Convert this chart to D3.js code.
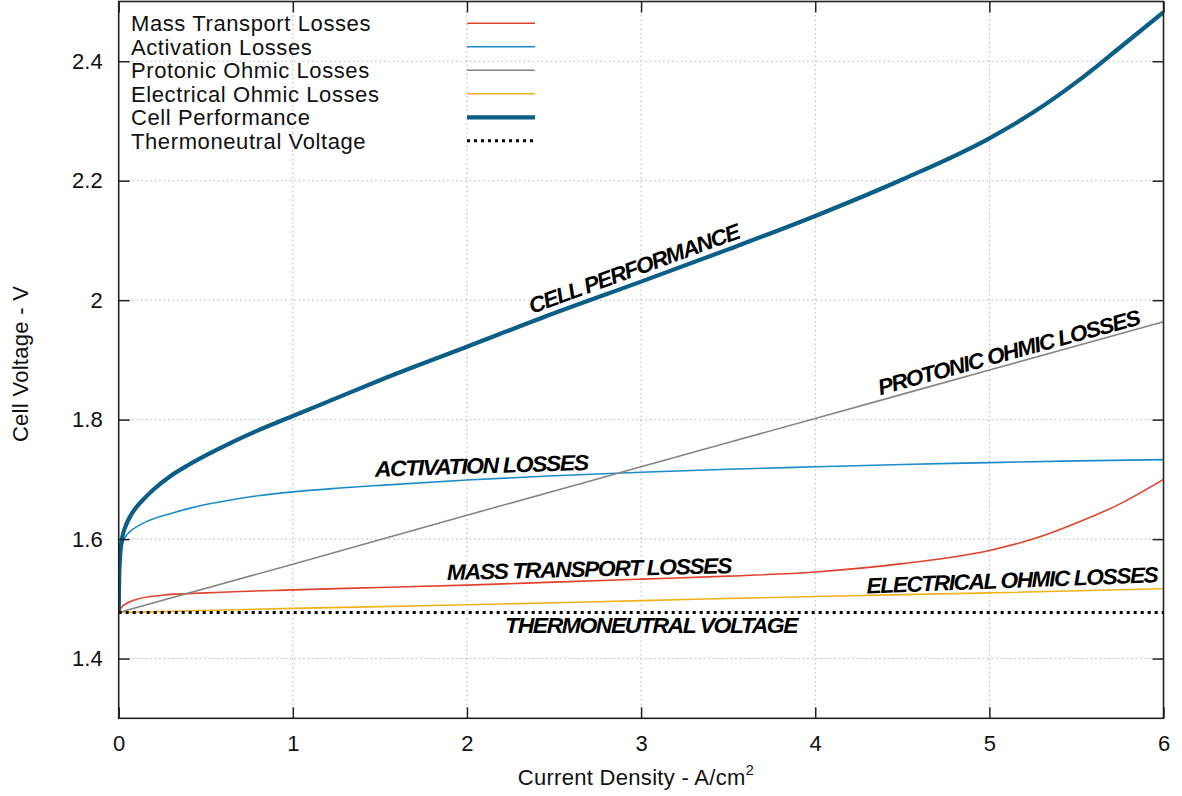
<!DOCTYPE html>
<html>
<head>
<meta charset="utf-8">
<script src="https://cdn.jsdelivr.net/npm/d3@7"></script>
<style>
  html, body { margin: 0; padding: 0; background: #fff; }
  svg { display: block; font-family: "Liberation Sans", Arial, Helvetica, sans-serif; }
</style>
</head>
<body>
<svg id="chart" width="1182" height="796"></svg>
<script>
// Current density (A/cm^2) and voltage (V) samples for each curve
const massCurrent = [0, 0.01, 0.02, 0.05, 0.1, 0.25, 0.5, 1, 1.5, 2, 2.5, 3, 3.5, 4, 4.5, 5, 5.25, 5.5, 5.75, 6];
const massVoltage = [1.477, 1.483, 1.487, 1.493, 1.499, 1.506, 1.510, 1.515, 1.519, 1.523, 1.528, 1.533, 1.538, 1.545, 1.559, 1.581, 1.600, 1.627, 1.659, 1.700];

const actCurrent = [0, 0.001, 0.003, 0.006, 0.01, 0.02, 0.04, 0.07, 0.1, 0.15, 0.2, 0.3, 0.4, 0.5, 0.65, 0.8, 1, 1.25, 1.5, 2, 2.5, 3, 3.5, 4, 4.5, 5, 5.5, 6];
const actVoltage = [1.477, 1.500, 1.535, 1.558, 1.572, 1.590, 1.604, 1.614, 1.620, 1.628, 1.634, 1.643, 1.651, 1.658, 1.666, 1.6725, 1.679, 1.685, 1.690, 1.699, 1.706, 1.712, 1.717, 1.721, 1.725, 1.728, 1.731, 1.733];

const protCurrent = [0, 1, 2, 3, 4, 5, 6];
const protVoltage = [1.477, 1.558, 1.640, 1.721, 1.802, 1.883, 1.964];

const elecCurrent = [0, 1, 2, 3, 4, 5, 6];
const elecVoltage = [1.477, 1.484, 1.490, 1.497, 1.504, 1.510, 1.517];

const cellCurrent = [0, 0.001, 0.003, 0.01, 0.02, 0.04, 0.07, 0.1, 0.15, 0.2, 0.3, 0.4, 0.5, 0.65, 0.8, 1, 1.25, 1.5, 2, 2.5, 3, 3.5, 4, 4.5, 5, 5.25, 5.5, 5.75, 6];
const cellVoltage = [1.477, 1.501, 1.537, 1.579, 1.602, 1.622, 1.640, 1.653, 1.669, 1.683, 1.706, 1.724, 1.740, 1.762, 1.782, 1.806, 1.836, 1.866, 1.922, 1.978, 2.031, 2.085, 2.141, 2.202, 2.271, 2.314, 2.365, 2.423, 2.482];

const thermoCurrent = [0, 6];
const thermoVoltage = [1.477, 1.477];

const seriesNames = ["Mass Transport Losses", "Activation Losses", "Protonic Ohmic Losses",
                     "Electrical Ohmic Losses", "Cell Performance", "Thermoneutral Voltage"];

const xTicks = [0, 1, 2, 3, 4, 5, 6];
const yTicks = [1.4, 1.6, 1.8, 2.0, 2.2, 2.4];

// ---------------------------------------------------------------------------
const svg = d3.select("#chart");
const plot = { left: 118.7, right: 1163.5, top: 1.5, bottom: 718.3 };
const fontSize = 22;

const x = d3.scaleLinear().domain([0, 6]).range([plot.left, plot.right]);
const y = d3.scaleLinear().domain([1.3, 2.5]).range([plot.bottom, plot.top]);

const zip = (xs, ys) => xs.map((v, i) => [v, ys[i]]);

const series = [
  { name: seriesNames[0], data: zip(massCurrent, massVoltage),     color: "#e0422b", width: 1.6 },
  { name: seriesNames[1], data: zip(actCurrent, actVoltage),       color: "#1a8ccb", width: 1.6 },
  { name: seriesNames[2], data: zip(protCurrent, protVoltage),     color: "#858585", width: 1.6 },
  { name: seriesNames[3], data: zip(elecCurrent, elecVoltage),     color: "#f0b21d", width: 1.6 },
  { name: seriesNames[4], data: zip(cellCurrent, cellVoltage),     color: "#0b5e86", width: 4.2 },
  { name: seriesNames[5], data: zip(thermoCurrent, thermoVoltage), color: "#000000", width: 3, dash: "3,4" }
];

svg.append("defs").append("clipPath").attr("id", "plotClip")
  .append("rect")
  .attr("x", plot.left).attr("y", plot.top)
  .attr("width", plot.right - plot.left).attr("height", plot.bottom - plot.top);

// Grid
const grid = svg.append("g").attr("stroke", "#b4b4b4").attr("stroke-width", 1).attr("stroke-dasharray", "1.5,3");
grid.selectAll("line.gx").data(xTicks.filter(t => t > 0 && t < 6)).join("line")
  .attr("x1", d => x(d)).attr("x2", d => x(d))
  .attr("y1", plot.top).attr("y2", plot.bottom);
grid.selectAll("line.gy").data(yTicks).join("line")
  .attr("x1", plot.left).attr("x2", plot.right)
  .attr("y1", d => y(d)).attr("y2", d => y(d));

// Curves
const line = d3.line().x(d => x(d[0])).y(d => y(d[1])).curve(d3.curveMonotoneX);
const curves = svg.append("g").attr("clip-path", "url(#plotClip)");
series.forEach(s => {
  curves.append("path")
    .attr("d", line(s.data))
    .attr("fill", "none")
    .attr("stroke", s.color)
    .attr("stroke-width", s.width)
    .attr("stroke-dasharray", s.dash || null)
    .attr("stroke-linejoin", "round");
});

// Axes: inward ticks on all four sides, labels on bottom and left
const tickLen = 11;
const axisColor = "#222";
svg.append("g").attr("transform", `translate(0,${plot.bottom})`)
  .call(d3.axisBottom(x).tickValues(xTicks).tickSize(-tickLen).tickPadding(17).tickFormat(d3.format("d")))
  .call(g => g.select(".domain").remove());
svg.append("g").attr("transform", `translate(0,${plot.top})`)
  .call(d3.axisTop(x).tickValues(xTicks).tickSize(-tickLen).tickFormat(""))
  .call(g => g.select(".domain").remove());
svg.append("g").attr("transform", `translate(${plot.left},0)`)
  .call(d3.axisLeft(y).tickValues(yTicks).tickSize(-tickLen).tickPadding(16).tickFormat(d => d3.format("~g")(d)))
  .call(g => g.select(".domain").remove());
svg.append("g").attr("transform", `translate(${plot.right},0)`)
  .call(d3.axisRight(y).tickValues(yTicks).tickSize(-tickLen).tickFormat(""))
  .call(g => g.select(".domain").remove());

svg.selectAll(".tick line").attr("stroke", axisColor).attr("stroke-width", 1.5);
svg.selectAll(".tick text").attr("font-size", fontSize).attr("fill", "#111")
  .attr("font-family", "'Liberation Sans', Arial, sans-serif");

svg.append("rect")
  .attr("x", plot.left).attr("y", plot.top)
  .attr("width", plot.right - plot.left).attr("height", plot.bottom - plot.top)
  .attr("fill", "none").attr("stroke", axisColor).attr("stroke-width", 1.6);

// Axis titles
const xTitle = svg.append("text")
  .attr("x", 636).attr("y", 785)
  .attr("text-anchor", "middle").attr("font-size", fontSize).attr("fill", "#111")
  .attr("letter-spacing", 0.3);
xTitle.append("tspan").text("Current Density - A/cm");
xTitle.append("tspan").attr("font-size", 15).attr("dy", -10).text("2");

svg.append("text")
  .attr("transform", `translate(28,${(plot.top + plot.bottom) / 2 + 4}) rotate(-90)`)
  .attr("text-anchor", "middle").attr("font-size", fontSize).attr("fill", "#111")
  .attr("letter-spacing", 0.3)
  .text("Cell Voltage - V");

// Legend
const legend = svg.append("g");
series.forEach((s, i) => {
  const cy = 23.3 + i * 23.5;
  legend.append("text")
    .attr("x", 131).attr("y", cy + 8)
    .attr("font-size", fontSize).attr("fill", "#111")
    .attr("letter-spacing", 0.6)
    .text(s.name);
  legend.append("line")
    .attr("x1", 467).attr("x2", 535).attr("y1", cy).attr("y2", cy)
    .attr("stroke", s.color).attr("stroke-width", s.width)
    .attr("stroke-dasharray", s.dash || null);
});

// In-plot curve annotations: anchor (current, voltage), tilt in degrees, width in px
const annotations = [
  { text: "CELL PERFORMANCE",        at: [2.374, 1.977], angle: -20,  len: 222 },
  { text: "PROTONIC OHMIC LOSSES",   at: [4.373, 1.841], angle: -15.2, len: 270 },
  { text: "ACTIVATION LOSSES",       at: [1.472, 1.7045], angle: -1.8, len: 213 },
  { text: "MASS TRANSPORT LOSSES",   at: [1.886, 1.5315], angle: -1.4, len: 284 },
  { text: "ELECTRICAL OHMIC LOSSES", at: [4.296, 1.509], angle: -2.2, len: 291 },
  { text: "THERMONEUTRAL VOLTAGE",   at: [2.219, 1.4423], angle: 0,   len: 292 }
];
svg.append("g").selectAll("text").data(annotations).join("text")
  .attr("transform", d => `translate(${x(d.at[0])},${y(d.at[1])}) rotate(${d.angle})`)
  .attr("font-size", 22).attr("font-weight", "bold").attr("font-style", "italic")
  .attr("letter-spacing", -1.4)
  .attr("textLength", d => d.len).attr("lengthAdjust", "spacingAndGlyphs")
  .attr("fill", "#000")
  .text(d => d.text);
</script>
</body>
</html>
